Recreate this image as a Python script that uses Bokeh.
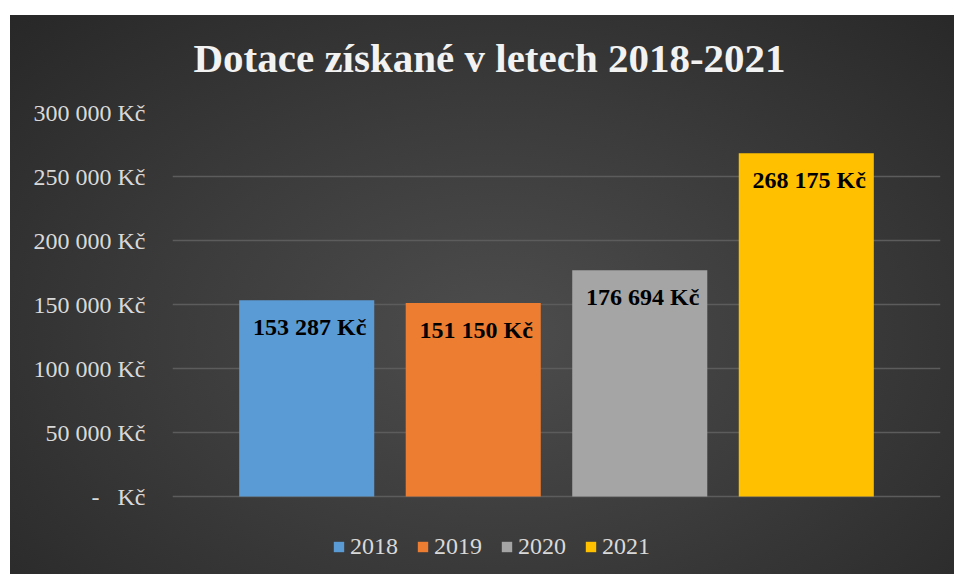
from bokeh.plotting import figure
from bokeh.models import ColumnDataSource, FactorRange, Range1d, FixedTicker
from bokeh.core.properties import value
from bokeh.embed import file_html
from bokeh.resources import INLINE

# ---- data ----
years = ["2018", "2019", "2020", "2021"]
amounts = [153287, 151150, 176694, 268175]
colors = ["#5b9bd5", "#ed7d31", "#a5a5a5", "#ffc000"]
tick_values = [0, 50000, 100000, 150000, 200000, 250000, 300000]
tick_labels = ["-\u00a0\u00a0\u00a0Kč", "50 000 Kč", "100 000 Kč", "150 000 Kč",
               "200 000 Kč", "250 000 Kč", "300 000 Kč"]
title_text = "Dotace získané v letech 2018-2021"

labels = [f"{a:,}".replace(",", " ") + " Kč" for a in amounts]
src = ColumnDataSource(dict(year=years, amount=amounts, color=colors, label=labels))

FONT = "Liberation Serif"

p = figure(
    width=954, height=574,
    x_range=FactorRange(factors=years, range_padding=0.306, range_padding_units="absolute"),
    y_range=Range1d(-60937.5, 300000),
    output_backend="svg", toolbar_location=None,
    title=title_text,
    min_border_left=172, min_border_right=14, min_border_top=112, min_border_bottom=0,
)
p.styles = {
    "background": (
        "linear-gradient(#ffffff, #ffffff) 0 0 / 100% 15px no-repeat, "
        "linear-gradient(#ffffff, #ffffff) 0 0 / 10px 100% no-repeat, "
        "radial-gradient(ellipse at 52% 58%, #4d4d4d 0%, #3c3c3c 45%, #262626 100%)"
    ),
}
p.border_fill_alpha = 0
p.background_fill_alpha = 0
p.outline_line_color = None

# title
p.title.text_font = FONT
p.title.text_font_size = "41px"
p.title.text_font_style = "bold"
p.title.text_color = "#f2f2f2"
p.title.align = "left"
p.title.offset = 21
p.title.standoff = 64

# bars
p.vbar(x="year", top="amount", bottom=0, width=0.811, source=src,
       fill_color="color", line_color=None, legend_field="year")

# data labels
p.text(x="year", y="amount", text="label", source=src,
       text_font=value(FONT), text_font_size="24px", text_font_style="bold",
       text_color="#000000", text_align="center", text_baseline="middle",
       x_offset=3, y_offset=27)

# axes
p.xaxis.visible = False
yax = p.yaxis[0]
yax.ticker = FixedTicker(ticks=tick_values)
yax.major_label_overrides = {v: l for v, l in zip(tick_values, tick_labels)}
yax.axis_line_color = None
yax.major_tick_line_color = None
yax.minor_tick_line_color = None
yax.major_tick_out = 0
yax.major_tick_in = 0
yax.major_label_standoff = 27
yax.major_label_text_font = FONT
yax.major_label_text_font_size = "24px"
yax.major_label_text_color = "#d9d9d9"

p.xgrid.grid_line_color = None
p.ygrid.ticker = FixedTicker(ticks=tick_values)
p.ygrid.grid_line_color = "#5c5c5c"
p.ygrid.grid_line_width = 1.5

# legend
lg = p.legend[0]
lg.orientation = "horizontal"
lg.location = (160, 14)
lg.glyph_width = 13
lg.glyph_height = 13
lg.label_standoff = 5
lg.spacing = 18
lg.padding = 0
lg.margin = 0
lg.background_fill_alpha = 0
lg.border_line_color = None
lg.label_text_font = FONT
lg.label_text_font_size = "24px"
lg.label_text_color = "#d9d9d9"

open("out.html", "w").write(file_html(p, INLINE))
